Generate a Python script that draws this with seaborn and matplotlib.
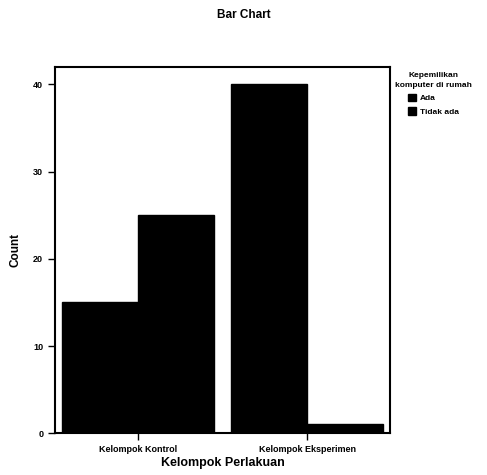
import pandas as pd
import matplotlib.pyplot as plt
import seaborn as sns

sns.set_theme(style="white")
plt.rcParams["font.family"] = ["Liberation Sans", "DejaVu Sans"]
plt.rcParams["text.color"] = "black"
plt.rcParams["axes.labelcolor"] = "black"
plt.rcParams["xtick.color"] = "black"
plt.rcParams["ytick.color"] = "black"

groups = ["Kelompok Kontrol", "Kelompok Kontrol", "Kelompok Eksperimen", "Kelompok Eksperimen"]
ownership = ["Ada", "Tidak ada", "Ada", "Tidak ada"]
counts = [15, 25, 40, 1]

df = pd.DataFrame({"Kelompok Perlakuan": groups,
                   "Kepemilikan komputer di rumah": ownership,
                   "Count": counts})

fig = plt.figure(figsize=(4.87, 4.75), dpi=100)
ax = fig.add_axes([0.113, 0.088, 0.688, 0.771])
sns.barplot(data=df, x="Kelompok Perlakuan", y="Count",
            hue="Kepemilikan komputer di rumah",
            palette=["black", "black"], width=0.9, saturation=1,
            edgecolor="black", ax=ax)

ax.set_xlim(-0.49, 1.49)
ax.set_ylim(0, 42)
ax.set_yticks([0, 10, 20, 30, 40])
for s in ax.spines.values():
    s.set_visible(True)
    s.set_color("black")
    s.set_linewidth(1.5)
ax.tick_params(axis="both", direction="out", length=5, width=1, color="black",
               labelsize=6.5, bottom=True, left=True)
for lab in ax.get_xticklabels() + ax.get_yticklabels():
    lab.set_fontweight("bold")

ax.set_xlabel("Kelompok Perlakuan", fontsize=9, fontweight="bold", labelpad=2)
ax.set_ylabel("Count", fontsize=8.5, fontweight="bold", labelpad=8)
fig.suptitle("Bar Chart", fontsize=8.5, fontweight="bold", y=0.98)

leg = ax.legend(title="Kepemilikan\nkomputer di rumah", loc="upper left",
                bbox_to_anchor=(0.99, 1.01), frameon=False, fontsize=6,
                title_fontsize=6, handlelength=1.0, handleheight=1.0,
                handletextpad=0.5, labelspacing=0.6, borderaxespad=0.6)
leg.get_title().set_fontweight("bold")
leg.get_title().set_multialignment("center")
leg.get_title().set_linespacing(1.6)
for t in leg.get_texts():
    t.set_fontweight("bold")

plt.savefig("out.png", dpi=100)
